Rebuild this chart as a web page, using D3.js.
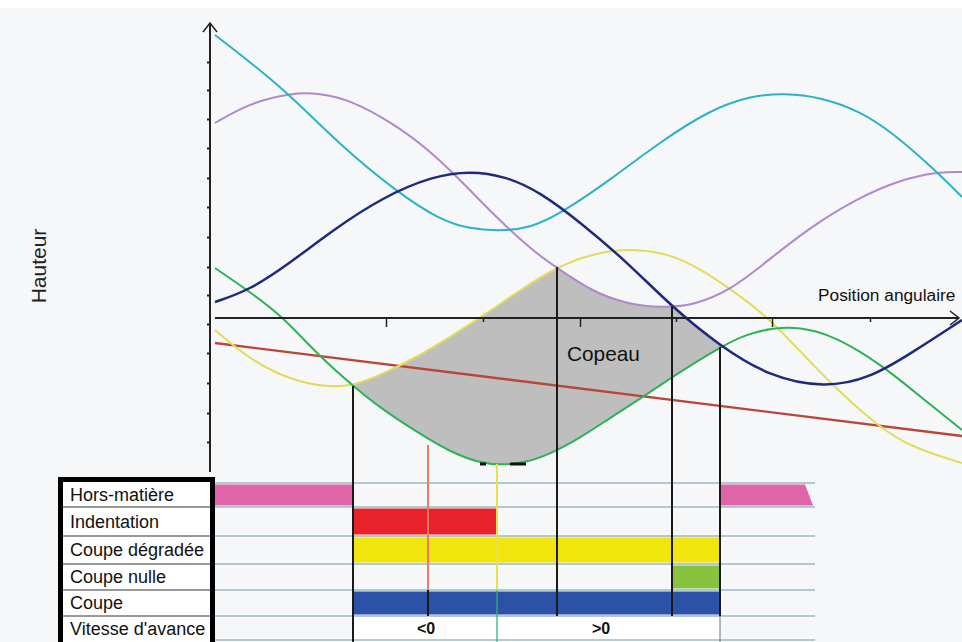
<!DOCTYPE html>
<html><head><meta charset="utf-8">
<script src="https://cdn.jsdelivr.net/npm/d3@7"></script>
<style>
html,body{margin:0;padding:0;background:#fff;}
svg{display:block;font-family:"Liberation Sans",Arial,sans-serif;}
</style></head><body>
<svg id="c" width="962" height="642"></svg>
<script>
// ---------- DATA (angular position u, height v) ----------
const cyanPts = [[0.4,28.3],[3.9,25.6],[7.7,22.5],[12.9,17.3],[18.6,12.6],[22.9,9.8],[25.9,8.9],[28.9,8.7],[31.9,9.0],[34.9,10.4],[39.9,13.8],[44.9,17.6],[49.9,20.8],[53.9,22.2],[57.4,22.5],[60.9,22.1],[64.9,20.7],[68.2,18.5],[72.4,14.8],[75.1,12.1]];
const purplePts = [[0.4,19.5],[3.9,21.5],[7.9,22.5],[10.9,22.5],[13.9,21.8],[18.2,19.5],[22.2,16.5],[25.6,13.1],[28.9,9.7],[32.2,6.7],[34.6,5.0],[38.2,2.6],[41.6,1.4],[45.2,1.0],[48.4,1.3],[51.9,2.8],[54.9,5.1],[59.9,9.1],[64.9,12.1],[68.9,13.8],[72.6,14.6],[75.1,14.6]];
const navyPts = [[0.4,1.6],[3.9,2.8],[7.9,5.5],[12.2,8.8],[17.2,12.1],[22.2,14.2],[25.9,14.7],[29.4,14.2],[32.9,12.6],[36.9,9.6],[41.6,5.6],[46.1,1.1],[50.9,-2.8],[55.9,-5.9],[61.4,-7.0],[65.9,-6.0],[69.9,-3.6],[75.1,-0.2]];
const yellowPts = [[0.4,-1.2],[3.9,-4.2],[8.2,-6.3],[11.6,-6.9],[14.2,-6.8],[17.2,-5.6],[20.6,-3.9],[23.9,-1.9],[27.2,0.2],[30.9,2.8],[34.6,5.1],[38.2,6.5],[42.6,7.0],[46.6,6.2],[49.9,4.3],[53.2,2.0],[56.2,-0.4],[59.9,-4.4],[63.2,-7.7],[66.6,-10.7],[69.9,-12.9],[75.1,-14.5]];
const greenPts = [[0.4,5.0],[3.9,2.6],[7.1,0.2],[10.6,-3.6],[14.2,-6.8],[17.2,-9.2],[20.6,-11.4],[23.9,-13.4],[26.9,-14.5],[28.9,-14.7],[31.4,-14.5],[33.9,-13.6],[36.9,-12.0],[39.9,-10.0],[43.2,-7.9],[46.1,-5.9],[50.9,-2.9],[53.6,-1.6],[56.2,-1.0],[58.9,-0.9],[61.9,-1.7],[64.9,-3.3],[68.2,-5.6],[71.6,-8.4],[75.1,-11.2]];
const redPts = [[0.4,-2.5],[75.1,-11.8]];

const xTicksMajor = [17.5,36.9,56.1];
const xTicksMinor = [27.2,46.5,65.9];
const yTicks = [-12.4,-9.5,-6.5,-3.5,-0.6,2.3,5.1,8.1,11.1,14.0,17.0,19.9,22.8,25.6];

// boundaries (angular position) and where they meet the curves
const markerU   = [14.2, 34.6, 46.1, 50.9];
const markerTop = [-6.8, 5.1, 1.1, -2.9];
const redMarker = [21.7, -12.7];
const yellowMarker = [28.6, -14.6];

const rowLabels = ["Hors-matière","Indentation","Coupe dégradée","Coupe nulle","Coupe","Vitesse d'avance"];
const barRows  = [0, 0, 1, 2, 3, 4];
const barStart = [0.4, 50.9, 14.2, 14.2, 46.1, 14.2];
const barEnd   = [14.2, 59.4, 28.6, 50.9, 50.9, 50.9];
const barEndLow= [14.2, 60.2, 28.6, 50.9, 50.9, 50.9];
const barColors= ["#E064A8","#E064A8","#E8222A","#F0E60E","#88C340","#2B52A6"];
const speedLabels = ["<0", ">0"];
const speedU = [21.5, 39.0];

// ---------- LAYOUT ----------
const svg = d3.select("#c");
const W = 962, H = 642;
const x = d3.scaleLinear().domain([0, 75.1]).range([211, 962]);
const y = d3.scaleLinear().domain([-15.4, 29.6]).range([472, 22]);
const rowTops = [483, 507, 536, 564, 590, 616, 642];
const curve = d3.curveBasis;

// background
svg.append("rect").attr("width", W).attr("height", H).attr("fill", "#F6F7F9");
svg.append("rect").attr("width", W).attr("height", 8).attr("fill", "#fff");

// ---------- grey chip area via clip paths ----------
const defs = svg.append("defs");
const lineGen = d3.line().x(d => x(d[0])).y(d => y(d[1])).curve(curve);
function clipArea(id, pts, above) {
  const a = d3.area().x(d => x(d[0])).y0(above ? 0 : H).y1(d => y(d[1])).curve(curve);
  defs.append("clipPath").attr("id", id).append("path").attr("d", a(pts));
}
clipArea("cG", greenPts, true);
clipArea("cY", yellowPts, false);
clipArea("cP", purplePts, false);
clipArea("cN", navyPts, false);
svg.append("g").attr("clip-path", "url(#cG)")
  .append("g").attr("clip-path", "url(#cY)")
  .append("g").attr("clip-path", "url(#cP)")
  .append("g").attr("clip-path", "url(#cN)")
  .append("rect").attr("x", 211).attr("y", 0).attr("width", 751).attr("height", 472).attr("fill", "#BEBEBE");

// ---------- curves ----------
const series = [
  {pts: redPts, color: "#B8463A", w: 2.4},
  {pts: yellowPts, color: "#E2DC5A", w: 2},
  {pts: greenPts, color: "#2DB356", w: 2},
  {pts: purplePts, color: "#B088CC", w: 2},
  {pts: cyanPts, color: "#2AB3C6", w: 2},
  {pts: navyPts, color: "#1F2B7A", w: 2.5}
];
series.forEach(s => {
  svg.append("path").attr("d", lineGen(s.pts)).attr("fill", "none")
    .attr("stroke", s.color).attr("stroke-width", s.w);
});

// ---------- axes ----------
[[xTicksMajor, 9], [xTicksMinor, 4]].forEach(([vals, size]) => {
  const gx = svg.append("g").attr("transform", `translate(0,${y(0)})`)
    .call(d3.axisBottom(x).tickValues(vals).tickSize(size).tickFormat(""));
  gx.select(".domain").remove();
  gx.selectAll(".tick line").attr("stroke", "#222").attr("stroke-width", 1.5);
});
const gy = svg.append("g").attr("transform", `translate(210,0)`)
  .call(d3.axisLeft(y).tickValues(yTicks).tickSize(3).tickFormat(""));
gy.select(".domain").remove();
gy.selectAll(".tick line").attr("stroke", "#222").attr("stroke-width", 2);

svg.append("line").attr("x1", 210).attr("x2", 210).attr("y1", 23).attr("y2", 472)
  .attr("stroke", "#222").attr("stroke-width", 2);
svg.append("path").attr("d", "M203,32 L210,23 L217,32").attr("fill","none").attr("stroke","#222").attr("stroke-width",1.5);
svg.append("line").attr("x1", 215).attr("x2", 958).attr("y1", y(0)).attr("y2", y(0))
  .attr("stroke", "#222").attr("stroke-width", 2.2);
svg.append("path").attr("d", `M950,${y(0)-7} L959,${y(0)} L950,${y(0)+7}`).attr("fill","none").attr("stroke","#222").attr("stroke-width",1.5);

// ---------- table ----------
const tRight = x(60.4);
svg.append("rect").attr("x", x(14.2)).attr("y", rowTops[5]+1).attr("width", x(50.9)-x(14.2)).attr("height", rowTops[6]-rowTops[5]).attr("fill", "#fff");
barRows.forEach((r, i) => {
  const t = rowTops[r] + 1.5, b = rowTops[r+1] - 1.5;
  svg.append("path").attr("d",
    `M${x(barStart[i])},${t} L${x(barEnd[i])},${t} L${x(barEndLow[i])},${b} L${x(barStart[i])},${b} Z`)
    .attr("fill", barColors[i]);
});
rowTops.slice(0, 6).forEach(t => {
  svg.append("line").attr("x1", 215).attr("x2", tRight).attr("y1", t).attr("y2", t)
    .attr("stroke", "#6E97A5").attr("stroke-width", 1.2);
});
svg.append("line").attr("x1", 215).attr("x2", tRight).attr("y1", 640).attr("y2", 640)
  .attr("stroke", "#6E97A5").attr("stroke-width", 1.2);

// label box
svg.append("rect").attr("x", 60).attr("y", 480).attr("width", 152).attr("height", 170).attr("fill", "#fff");
rowTops.slice(1, 6).forEach(t => {
  svg.append("line").attr("x1", 62).attr("x2", 211).attr("y1", t).attr("y2", t)
    .attr("stroke", "#333").attr("stroke-width", 1);
});
svg.append("rect").attr("x", 60.5).attr("y", 479.5).attr("width", 152).attr("height", 170)
  .attr("fill", "none").attr("stroke", "#000").attr("stroke-width", 5);
rowLabels.forEach((l, i) => {
  svg.append("text").attr("x", 70).attr("y", (rowTops[i] + rowTops[i+1]) / 2 + 6)
    .attr("font-size", 18).attr("fill", "#111").text(l);
});
speedLabels.forEach((l, i) => {
  svg.append("text").attr("x", x(speedU[i])).attr("y", 634).attr("text-anchor", "middle")
    .attr("font-size", 16).attr("font-weight", "bold").attr("fill", "#111").text(l);
});

// ---------- boundary markers ----------
function vline(u, y1, y2, color, w) {
  svg.append("line").attr("x1", x(u)).attr("x2", x(u)).attr("y1", y1).attr("y2", y2)
    .attr("stroke", color).attr("stroke-width", w);
}
vline(markerU[0], y(markerTop[0]), 642, "#1a1a1a", 2);
vline(markerU[1], y(markerTop[1]), rowTops[5], "#1a1a1a", 2);
vline(markerU[2], y(markerTop[2]), rowTops[5], "#1a1a1a", 2);
vline(markerU[3], y(markerTop[3]), rowTops[5], "#1a1a1a", 2);
vline(markerU[3], rowTops[5], 642, "#7f8c90", 1.2);
vline(redMarker[0], y(redMarker[1]), rowTops[4], "#EE7A62", 2);
vline(redMarker[0], rowTops[4], rowTops[5], "#1a1a1a", 2);
vline(yellowMarker[0], y(yellowMarker[1]), rowTops[4], "#E8E24A", 2);
vline(yellowMarker[0], rowTops[4], 642, "#2DB380", 1.3);
svg.append("line").attr("x1", x(26.9)).attr("x2", x(27.5)).attr("y1", y(-14.6)).attr("y2", y(-14.6)).attr("stroke", "#111").attr("stroke-width", 3);
svg.append("line").attr("x1", x(29.9)).attr("x2", x(31.5)).attr("y1", y(-14.6)).attr("y2", y(-14.6)).attr("stroke", "#111").attr("stroke-width", 3);

// ---------- texts ----------
svg.append("text").attr("transform", "translate(46,266) rotate(-90)").attr("text-anchor", "middle")
  .attr("font-size", 21).attr("fill", "#222").text("Hauteur");
svg.append("text").attr("x", 818).attr("y", 301).attr("font-size", 17.3).attr("fill", "#111").text("Position angulaire");
svg.append("text").attr("x", 567).attr("y", 361).attr("font-size", 20.8).attr("fill", "#111").text("Copeau");
</script>
</body></html>
